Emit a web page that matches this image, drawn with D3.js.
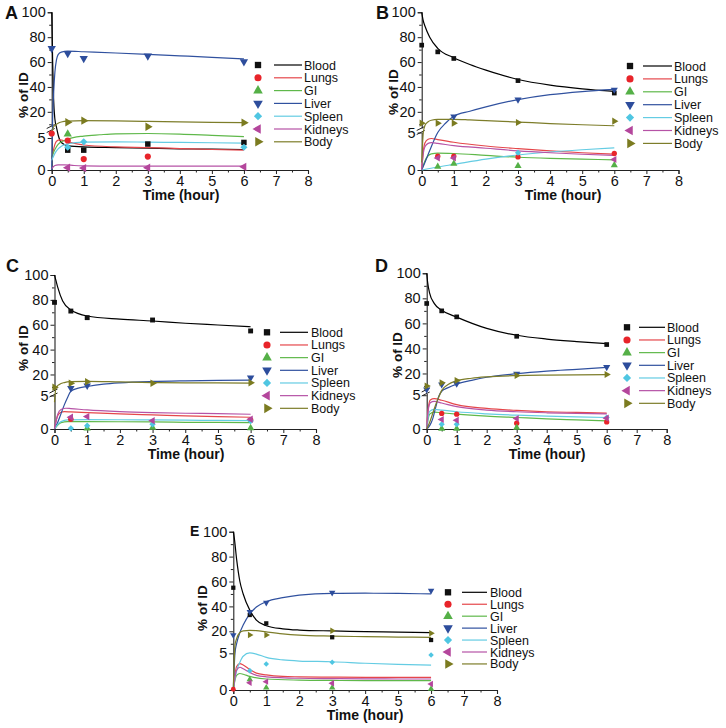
<!DOCTYPE html>
<html><head><meta charset="utf-8">
<script src="https://cdn.jsdelivr.net/npm/d3@7"></script>
<style>body{margin:0;background:#fff}svg{display:block;font-family:"Liberation Sans",Arial,sans-serif}</style>
</head><body><svg id="c" width="726" height="728"></svg>
<script>
// ---------- data ----------
const organs = ["Blood","Lungs","GI","Liver","Spleen","Kidneys","Body"];
const markerColors = ["#111111","#e8242a","#55b047","#2d4d9c","#4fc6e2","#b4469c","#7b7b20"];
const lineColors = ["#000000","#e5474b","#5fb84a","#30519f","#64cce3","#b653a6","#7d7d2a"];
const shapes = ["square","circle","up","down","diamond","left","right"];
const xTickVals = [0,1,2,3,4,5,6,7,8];
const xMinorVals = [0.5,1.5,2.5,3.5,4.5,5.5,6.5,7.5];
const yTickVals = [0,5,20,40,60,80,100];
const yMinorVals = [30,50,70,90];
const panelLabels = ["A","B","C","D","E"];

// measured points (time h, % of ID), organ order as above
const ptsA = [
  [[0.5,3.1],[1,3.1],[3,4.05],[6,4.3]],
  [[0,5.7],[0.5,4.6],[1,1.7],[3,2.1]],
  [[0.5,5.6]],
  [[0,71],[0.5,67],[1,63],[3,65],[6,60.3]],
  [[0.5,3.55],[1,4.4],[6,3.55]],
  [[0.5,0.36],[1,0.3],[3,0.36],[6,0.5]],
  [[0.5,11.6],[1,12.9],[3,8.0],[6,11.3]]
];
const fitA = [
  [[0,100],[0.03,60],[0.06,30],[0.1,14],[0.15,7.5],[0.2,5.5],[0.3,4.3],[0.5,3.8],[1,3.6],[2,3.5],[3,3.4],[4,3.3],[5,3.25],[6,3.2]],
  [[0,1.5],[0.05,3.0],[0.1,4.0],[0.15,4.5],[0.25,4.7],[0.5,4.4],[1,3.9],[2,3.6],[3,3.5],[4,3.35],[5,3.2],[6,3.1]],
  [[0,2.0],[0.1,3.2],[0.2,4.0],[0.5,4.8],[1,5.3],[1.5,5.5],[2,5.65],[3,5.7],[4,5.6],[5,5.4],[6,5.2]],
  [[0,0],[0.03,15],[0.06,35],[0.1,52],[0.15,62],[0.2,66],[0.3,68],[0.5,68.8],[1,68.3],[2,67.3],[3,66.2],[4,65],[5,63.8],[6,62.5]],
  [[0,1.5],[0.1,2.6],[0.2,3.3],[0.3,3.7],[0.5,4.1],[1,4.35],[2,4.4],[3,4.35],[4,4.3],[5,4.25],[6,4.2]],
  [[0,0.2],[0.1,0.7],[0.2,0.8],[0.4,0.8],[0.7,0.7],[1,0.65],[2,0.6],[3,0.6],[4,0.6],[5,0.6],[6,0.6]],
  [[0,5.5],[0.05,7.5],[0.1,9.0],[0.2,10.8],[0.3,11.8],[0.5,12.5],[1,12.9],[2,12.7],[3,12.3],[4,12],[5,11.6],[6,11.3]]
];
const ptsB = [
  [[0,73.6],[0.5,68.2],[1,62.9],[3,45.1],[6,35.1]],
  [[0.5,1.85],[1,1.85],[3,1.75],[6,2.2]],
  [[0.5,0.45],[1,0.85],[3,0.55],[6,0.65]],
  [[1,16.3],[3,29.8],[6,37.8]],
  [[3,2.3]],
  [[0.5,1.6],[1,1.6],[6,1.4]],
  [[0,10.9],[0.5,10.9],[1,10.9],[3,11.4],[6,12.5]]
];
const fitB = [
  [[0,100],[0.05,93],[0.1,89],[0.25,80],[0.5,71],[1,63.5],[1.5,58],[2,53.5],[3,46],[4,41.5],[5,38.5],[6,36.5]],
  [[0,0],[0.05,2.5],[0.1,3.6],[0.2,4.1],[0.3,4.2],[0.5,4.05],[1,3.7],[2,3.2],[3,2.85],[4,2.55],[5,2.3],[6,2.1]],
  [[0,0],[0.1,1.2],[0.2,1.9],[0.3,2.15],[0.5,2.25],[1,2.2],[2,1.95],[3,1.7],[4,1.55],[5,1.45],[6,1.35]],
  [[0,0],[0.1,1],[0.25,2.6],[0.5,5.0],[0.75,11],[1,16.4],[1.5,20.5],[2,24],[3,29.8],[4,33.8],[5,36.3],[6,38]],
  [[0,0],[0.5,0.4],[1,0.75],[2,1.45],[3,2.0],[4,2.4],[5,2.7],[6,2.95]],
  [[0,0],[0.05,2.2],[0.1,3.1],[0.2,3.55],[0.3,3.65],[0.5,3.55],[1,3.25],[2,2.9],[3,2.55],[4,2.3],[5,2.1],[6,1.95]],
  [[0,1],[0.05,5],[0.1,9],[0.2,12],[0.3,13.2],[0.5,13.9],[1,14],[1.5,13.5],[2,12.9],[3,11.8],[4,10.6],[5,9.6],[6,8.8]]
];
const ptsC = [
  [[0,78],[0.5,71],[1,65.7],[3,63.8],[6,55]],
  [[0.5,1.45],[6,1.35]],
  [[1,0.1],[3,0.2],[6,0.15]],
  [[0.5,8.9],[1,11],[6,17.4]],
  [[0.5,0.1],[1,0.5],[3,0.7],[6,1.2]],
  [[0.5,1.75],[1,1.85],[3,1.25],[6,1.45]],
  [[0,9.7],[0.5,12.9],[1,14.2],[3,12.9],[6,13.4]]
];
const fitC = [
  [[0,100],[0.05,95],[0.1,90],[0.25,79],[0.5,72],[1,67],[2,64.5],[3,63],[4,61.2],[5,59.8],[6,58.4]],
  [[0,0],[0.05,1.2],[0.1,2.0],[0.2,2.5],[0.3,2.6],[0.5,2.55],[1,2.45],[2,2.25],[3,2.1],[4,1.95],[5,1.85],[6,1.75]],
  [[0,0],[0.1,0.6],[0.2,0.95],[0.4,1.1],[1,1.1],[2,1.08],[3,1.05],[4,1.0],[5,0.98],[6,0.95]],
  [[0,0],[0.1,1],[0.2,2.3],[0.3,3.6],[0.4,4.7],[0.5,6.5],[0.7,8.8],[1,10.3],[1.5,12.2],[2,13.3],[3,14.4],[4,14.9],[5,15.2],[6,15.4]],
  [[0,0],[0.1,0.7],[0.2,1.1],[0.4,1.35],[1,1.4],[2,1.38],[3,1.35],[4,1.32],[5,1.28],[6,1.25]],
  [[0,0],[0.05,1.2],[0.1,2.2],[0.2,2.9],[0.35,3.1],[0.5,3.05],[1,2.85],[2,2.6],[3,2.45],[4,2.35],[5,2.3],[6,2.2]],
  [[0,4],[0.03,7],[0.07,10],[0.15,12],[0.3,13.5],[0.5,14.2],[1,14.5],[2,14],[3,13.5],[4,13.3],[5,13.2],[6,13.1]]
];
const ptsD = [
  [[0,75.9],[0.5,70],[1,65.2],[3,49.7],[6,43.1]],
  [[0.5,2.3],[1,2.2],[3,0.85],[6,1.05]],
  [[0.5,0.05],[1,0.05],[3,0.2]],
  [[0,7.2],[0.5,11.2],[1,11.8],[3,19.8],[6,25.1]],
  [[0.5,0.7],[1,0.7],[6,1.7]],
  [[0.5,1.4],[1,1.3],[3,1.55],[6,1.6]],
  [[0,9.9],[0.5,12.6],[1,14.4],[3,18.4],[6,19.2]]
];
const fitD = [
  [[0,100],[0.03,93],[0.1,84],[0.25,76],[0.5,70.5],[1,65],[2,56],[3,50.5],[4,47.5],[5,45.5],[6,43.8]],
  [[0,0],[0.03,2],[0.07,3.6],[0.12,4.3],[0.25,4.5],[0.5,4.25],[1,3.6],[2,3.05],[3,2.75],[4,2.55],[5,2.45],[6,2.35]],
  [[0,0],[0.05,1.5],[0.1,2.2],[0.25,2.5],[0.5,2.4],[1,2.2],[2,1.9],[3,1.7],[4,1.5],[5,1.35],[6,1.2]],
  [[0,0],[0.1,0.5],[0.2,1.5],[0.3,3.2],[0.4,4.8],[0.5,5.8],[0.7,8.5],[1,11.5],[1.5,14.5],[2,17],[3,19.8],[4,21.8],[5,23.3],[6,24.8]],
  [[0,0],[0.05,1.8],[0.1,2.6],[0.25,2.9],[0.5,2.8],[1,2.55],[2,2.25],[3,2.05],[4,1.9],[5,1.8],[6,1.7]],
  [[0,0],[0.03,1.8],[0.07,3.3],[0.12,3.9],[0.25,4.1],[0.5,3.85],[1,3.3],[2,2.8],[3,2.55],[4,2.4],[5,2.3],[6,2.25]],
  [[0,0],[0.1,1],[0.2,2.3],[0.3,3.6],[0.4,4.7],[0.5,6.5],[0.7,11],[1,14.2],[1.5,16.2],[2,17.3],[3,18.3],[4,18.7],[5,18.9],[6,19]]
];
const ptsE = [
  [[0,55],[0.5,33.1],[1,26.4],[3,15.2],[6,13]],
  [[0,0.1]],
  [[0.5,1.45],[1,0.32],[3,0.32],[6,0.14]],
  [[0,17],[0.5,35.7],[1,43],[3,51],[6,52.6]],
  [[0.5,2.64],[1,3.55],[3,3.78],[6,4.77]],
  [[0.5,1.0],[1,1.14],[3,0.91],[6,0.82]],
  [[0.5,17],[1,17],[3,20.5],[6,18.4]]
];
const fitE = [
  [[0,100],[0.03,95],[0.1,78],[0.2,60],[0.3,50],[0.5,37],[0.7,29],[1,24.5],[1.5,22],[2,21],[3,20.3],[4,19.8],[5,19.4],[6,19]],
  [[0,0],[0.05,2],[0.1,3.2],[0.2,3.6],[0.3,3.4],[0.5,2.8],[0.7,2.3],[1,2.05],[1.5,1.85],[2,1.8],[3,1.75],[4,1.73],[5,1.73],[6,1.72]],
  [[0,0],[0.05,1.3],[0.1,2.0],[0.2,2.25],[0.3,2.15],[0.5,1.85],[1,1.5],[2,1.35],[3,1.3],[4,1.28],[5,1.27],[6,1.27]],
  [[0,0],[0.05,5],[0.1,10],[0.2,19],[0.3,25],[0.5,34],[0.7,39.5],[1,43.8],[1.5,47],[2,49],[3,50.5],[4,50.6],[5,50.4],[6,50]],
  [[0,0],[0.05,1.5],[0.1,2.6],[0.2,3.8],[0.3,4.6],[0.5,5.05],[0.7,4.9],[1,4.45],[1.5,4.1],[2,3.95],[3,3.85],[4,3.65],[5,3.5],[6,3.4]],
  [[0,0],[0.05,1.7],[0.1,2.7],[0.2,3.1],[0.3,2.9],[0.5,2.4],[0.7,2.0],[1,1.8],[2,1.6],[3,1.55],[4,1.52],[5,1.5],[6,1.5]],
  [[0,0],[0.05,8],[0.1,14],[0.2,19],[0.3,20.3],[0.5,20.8],[0.7,20.5],[1,19.5],[1.5,18],[2,17],[3,16.2],[4,15.7],[5,15.4],[6,15.2]]
];

// ---------- layout ----------
const panels = [
  {pts:ptsA, fit:fitA, xr:[51.7,308], yd:[0,6.4,7,100], yr:[170,129,128,12.3], brk:true,
   lab:[5,19,16], ylab:[23,95], tt:[181,200], leg:[258,274,302,304,65,12.8], ms:30},
  {pts:ptsB, fit:fitB, xr:[421.7,678.5], yd:[0,5.2,5.4,100], yr:[170,131,130,12.3], brk:true,
   lab:[376,19,16], ylab:[393,92], tt:[563,200], leg:[630,643,672,674,66,12.9], ms:22},
  {pts:ptsC, fit:fitC, xr:[54.5,316], yd:[0,5.3,5.5,100], yr:[429,393.5,392.5,275], brk:true,
   lab:[6,272,16], ylab:[23,348], tt:[186,459], leg:[267,280,308,311,332.3,12.67], ms:24},
  {pts:ptsD, fit:fitD, xr:[426.7,666.7], yd:[0,5.4,5.6,100], yr:[429,392.5,391.5,273.3], brk:true,
   lab:[375,272,16], ylab:[397,355], tt:[547,459], leg:[627,639,665,667,327.3,12.67], ms:22},
  {pts:ptsE, fit:fitE, xr:[233.3,497], yd:[0,6,9,100], yr:[690,646,645,531.7], brk:false,
   lab:[190,536,12], ylab:[202,608], tt:[365,720], leg:[448,462,487,490,592.3,11.94], ms:18}
];

const svg = d3.select("#c");

function symbolPath(shape, size){
  const typ = shape==="square"||shape==="diamond"?d3.symbolSquare: shape==="circle"?d3.symbolCircle: d3.symbolTriangle;
  return d3.symbol().type(typ).size(shape==="diamond"? size*0.85 : size)();
}
function rot(shape){
  return shape==="down"?180: shape==="left"?-90: shape==="right"?90: shape==="diamond"?45:0;
}

panels.forEach((p, pi) => {
  const x = d3.scaleLinear().domain([0,8]).range(p.xr);
  const y = d3.scaleLinear().domain(p.yd).range(p.yr);
  const g = svg.append("g");
  const ax = p.xr[0], y0 = p.yr[0];

  // x axis
  const xa = g.append("g").attr("transform",`translate(0,${y0})`)
    .call(d3.axisBottom(x).tickValues(xTickVals).tickSize(4).tickPadding(2).tickFormat(d3.format("d")));
  xa.selectAll("text").attr("font-size",14.5).attr("fill","#111").attr("font-family","Liberation Sans, Arial");
  g.append("g").attr("transform",`translate(0,${y0})`)
    .call(d3.axisBottom(x).tickValues(xMinorVals).tickSize(2.5).tickFormat(""))
    .select(".domain").remove();

  // y axis
  const ya = g.append("g").attr("transform",`translate(${ax},0)`)
    .call(d3.axisLeft(y).tickValues(yTickVals).tickSize(4).tickPadding(2).tickFormat(d3.format("d")));
  ya.selectAll("text").attr("font-size",14.5).attr("fill","#111").attr("font-family","Liberation Sans, Arial");
  const minors = yMinorVals.concat(p.yd[2] < 10 ? [10] : []);
  g.append("g").attr("transform",`translate(${ax},0)`)
    .call(d3.axisLeft(y).tickValues(minors).tickSize(2.5).tickFormat(""))
    .select(".domain").remove();
  g.selectAll(".domain").attr("stroke","#222").attr("stroke-width",1.1);
  g.selectAll(".tick line").attr("stroke","#222");

  // break marks
  if (p.brk) {
    const yb = (y(p.yd[1]) + y(p.yd[2]))/2;
    g.append("rect").attr("x",ax-2).attr("y",yb-2).attr("width",4).attr("height",4).attr("fill","#fff");
    [-2,2].forEach(o => g.append("line").attr("x1",ax-5).attr("y1",yb+o+2).attr("x2",ax+3).attr("y2",yb+o-2)
      .attr("stroke","#222").attr("stroke-width",1));
  }

  // fitted curves
  const line = d3.line().x(d=>x(d[0])).y(d=>y(d[1])).curve(d3.curveMonotoneX);
  p.fit.forEach((arr,i) => {
    g.append("path").attr("d",line(arr)).attr("fill","none")
      .attr("stroke",lineColors[i]).attr("stroke-width",1.2);
  });

  // markers
  p.pts.forEach((arr,i) => {
    g.selectAll(null).data(arr).enter().append("path")
      .attr("d",symbolPath(shapes[i], p.ms))
      .attr("transform",d=>`translate(${x(d[0])},${y(d[1])}) rotate(${rot(shapes[i])})`)
      .attr("fill",markerColors[i]);
  });

  // legend
  const [mx,lx1,lx2,tx,ly0,ldy] = p.leg;
  organs.forEach((o,i) => {
    const yy = ly0 + i*ldy;
    g.append("path").attr("d",symbolPath(shapes[i], 40))
      .attr("transform",`translate(${mx},${yy}) rotate(${rot(shapes[i])})`).attr("fill",markerColors[i]);
    g.append("line").attr("x1",lx1).attr("x2",lx2).attr("y1",yy).attr("y2",yy)
      .attr("stroke",lineColors[i]).attr("stroke-width",1.2);
    g.append("text").attr("x",tx).attr("y",yy+4.5).attr("font-size",12.5).attr("fill","#111").text(o);
  });

  // titles
  g.append("text").attr("x",p.tt[0]).attr("y",p.tt[1]).attr("text-anchor","middle")
    .attr("font-size",14).attr("font-weight","bold").attr("fill","#111").text("Time (hour)");
  g.append("text").attr("transform",`translate(${p.ylab[0]+5},${p.ylab[1]}) rotate(-90)`)
    .attr("text-anchor","middle").attr("font-size",13.5).attr("font-weight","bold").attr("fill","#111").text("% of ID");
  g.append("text").attr("x",p.lab[0]).attr("y",p.lab[1]).attr("font-size",p.lab[2]+2)
    .attr("font-weight","bold").attr("fill","#111").text(panelLabels[pi]);
});
</script></body></html>
